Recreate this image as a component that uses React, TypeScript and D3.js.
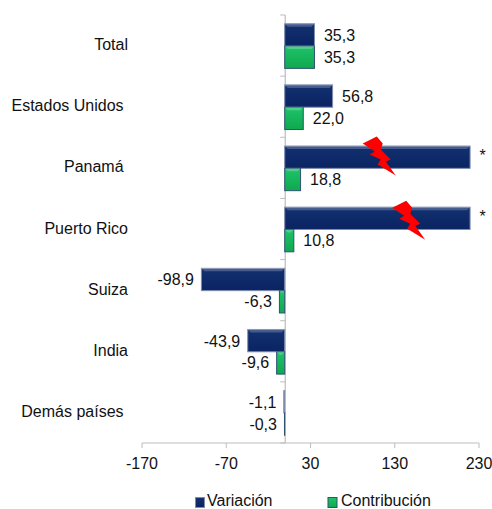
import * as d3 from 'd3'

const categories = ['Total', 'Estados Unidos\u00a0', 'Panamá\u00a0', 'Puerto Rico', 'Suiza', 'India', 'Demás países\u00a0']
const variacion = [35.3, 56.8, 220, 220, -98.9, -43.9, -1.1]
const contribucion = [35.3, 22.0, 18.8, 10.8, -6.3, -9.6, -0.3]
const variacionLabels = ['35,3', '56,8', '*', '*', '-98,9', '-43,9', '-1,1']
const contribucionLabels = ['35,3', '22,0', '18,8', '10,8', '-6,3', '-9,6', '-0,3']
const xTicks = [-170, -70, 30, 130, 230]
const breakCategories = ['Panamá\u00a0', 'Puerto Rico']
const breakValues = [92, 127]
const breakLift = [9, 6]

const width = 492
const height = 509
const margin = { top: 15, right: 13, bottom: 66, left: 142 }
const font = 'Liberation Sans, Arial, sans-serif'

// bolt outline in its own small box, placed over the bar
const bolt: [number, number][] = [
  [0, 7], [14, 0], [20, 7], [18, 13], [28, 23], [23, 25], [33, 39], [15, 28], [18, 23], [7, 18], [12, 15],
]

export default function App() {
  const x = d3.scaleLinear().domain([-170, 230]).range([margin.left, width - margin.right])
  const y = d3
    .scaleBand()
    .domain(categories)
    .range([margin.top, height - margin.bottom])
    .paddingInner(0.27)
    .paddingOuter(0.135)
  const sub = d3.scaleBand().domain(['v', 'c']).range([0, y.bandwidth()])
  const axisY = height - margin.bottom
  const step = y.step()
  const boltLine = d3.line()

  const bar = (value: number, top: number, key: string, fill: string, edge: string) => {
    const x0 = Math.min(x(0), x(value)) - 0.5
    const w = Math.abs(x(value) - x(0))
    const h = sub.bandwidth()
    const b = Math.min(3, w / 2)
    return (
      <g key={key}>
        <rect x={x0} y={top} width={w} height={h} fill={fill} stroke={edge} strokeWidth={1} />
        <path
          d={`M${x0},${top}h${w}l${-b},${b}h${-(w - 2 * b)}z`}
          fill="#ffffff"
          opacity={0.22}
        />
      </g>
    )
  }

  return (
    <svg
      width={width}
      height={height}
      style={{ position: 'absolute', left: 0, top: 0, fontFamily: font }}
    >
      <defs>
        <linearGradient id="navy" x1="0" x2="0" y1="0" y2="1">
          <stop offset="0" stopColor="#12306f" />
          <stop offset="1" stopColor="#0b2463" />
        </linearGradient>
        <linearGradient id="green" x1="0" x2="0" y1="0" y2="1">
          <stop offset="0" stopColor="#1ec468" />
          <stop offset="1" stopColor="#0fa84f" />
        </linearGradient>
      </defs>

      {/* axes */}
      <line x1={x(-170)} x2={x(230)} y1={axisY} y2={axisY} stroke="#bdbdbd" strokeWidth={1.2} />
      <line x1={x(0)} x2={x(0)} y1={margin.top} y2={axisY} stroke="#bdbdbd" strokeWidth={1.2} />
      {xTicks.map((t) => (
        <g key={t}>
          <line x1={x(t)} x2={x(t)} y1={axisY} y2={axisY + 5} stroke="#bdbdbd" />
          <text x={x(t)} y={axisY + 25.5} textAnchor="middle" fontSize={16} fill="#111">
            {t}
          </text>
        </g>
      ))}
      {d3.range(categories.length + 1).map((i) => (
        <line
          key={i}
          x1={x(0) - 5}
          x2={x(0)}
          y1={margin.top + i * step}
          y2={margin.top + i * step}
          stroke="#bdbdbd"
        />
      ))}

      {categories.map((c, i) => {
        const top = (y(c) as number) + 0.5
        const mid = top + sub.bandwidth()
        return (
          <g key={c}>
            {bar(variacion[i], top, c + '-v', 'url(#navy)', '#7f8cae')}
            {bar(contribucion[i], mid, c + '-c', 'url(#green)', '#2f5273')}
          </g>
        )
      })}

      {categories.map((c, i) => {
        const top = y(c) as number
        const h = sub.bandwidth()
        const isStar = variacionLabels[i] === '*'
        const vNeg = variacion[i] < 0
        const cNeg = contribucion[i] < 0
        return (
          <g key={c} fontSize={16} fill="#111">
            <text x={128} y={top + h + 4.5} textAnchor="end">
              {c}
            </text>
            <text
              x={x(variacion[i]) + (vNeg ? -8 : 9)}
              y={top + h / 2 + (isStar ? 4.5 : 6.5)}
              textAnchor={vNeg ? 'end' : 'start'}
            >
              {variacionLabels[i]}
            </text>
            <text
              x={x(contribucion[i]) + (cNeg ? -8 : 9)}
              y={top + h + h / 2 + 6}
              textAnchor={cNeg ? 'end' : 'start'}
            >
              {contribucionLabels[i]}
            </text>
          </g>
        )
      })}

      {/* axis break bolts on the cut bars */}
      {breakCategories.map((c, i) => (
        <path
          key={c}
          transform={`translate(${x(breakValues[i])},${(y(c) as number) - breakLift[i]})`}
          d={boltLine(bolt) + 'Z'}
          fill="#ff0000"
        />
      ))}

      {/* legend */}
      <g fontSize={16} fill="#111">
        <rect x={195.5} y={497.5} width={9} height={10} fill="url(#navy)" stroke="#7f8cae" />
        <text x={207} y={505.5}>Variación</text>
        <rect x={328} y={497.5} width={9} height={10} fill="url(#green)" stroke="#2f5273" />
        <text x={341} y={505.5}>Contribución</text>
      </g>
    </svg>
  )
}
